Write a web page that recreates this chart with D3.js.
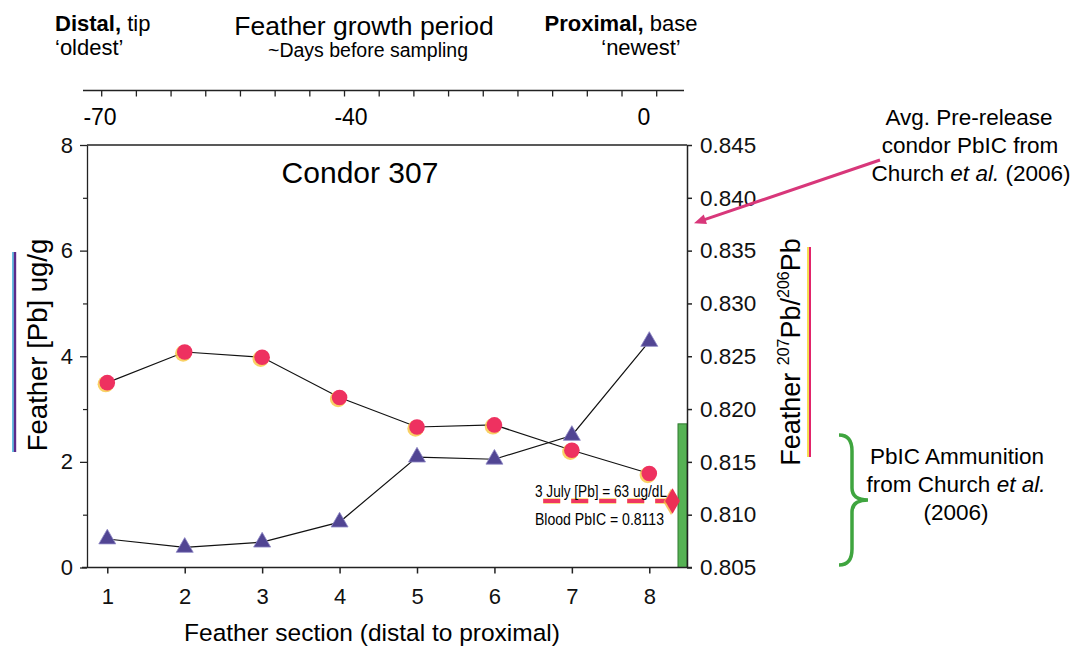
<!DOCTYPE html>
<html>
<head>
<meta charset="utf-8">
<script src="https://cdn.jsdelivr.net/npm/d3@7"></script>
<style>
  html, body { margin: 0; padding: 0; background: #fff; }
  svg { display: block; font-family: "Liberation Sans", Arial, sans-serif; }
</style>
</head>
<body>
<svg id="chart"></svg>
<script>
// feather sections, distal (1) to proximal (8)
const sections = [1, 2, 3, 4, 5, 6, 7, 8];
// feather [Pb] ug/g (triangles, left axis)
const featherPb = [0.54, 0.38, 0.48, 0.86, 2.09, 2.05, 2.5, 4.28];
// feather 207Pb/206Pb (circles, right axis)
const featherRatio = [0.8225, 0.8254, 0.8249, 0.8211, 0.8183, 0.8185, 0.8161, 0.8139];
// blood sample
const bloodRatio = 0.8113;
const bloodSection = 8.3;
const bloodLineFrom = 6.63;
// reference values from Church et al. (2006)
const preReleaseRatio = 0.8376;
const ammoRange = [0.805, 0.8186];

const leftTicks = [0, 2, 4, 6, 8];
const leftMinor = [1, 3, 5, 7];
const rightTicks = [0.805, 0.81, 0.815, 0.82, 0.825, 0.83, 0.835, 0.84, 0.845];
const dayLabels = [-70, -40, 0];
const dayMinorCount = 17;

const width = 1076;
const height = 654;
const marginTop = 145;
const marginRight = 389;
const marginBottom = 86.5;
const marginLeft = 87;

const svg = d3.select("#chart")
    .attr("width", width)
    .attr("height", height)
    .attr("viewBox", [0, 0, width, height]);

const x = d3.scaleLinear()
    .domain([0.738, 8.487])
    .range([marginLeft, width - marginRight]);
const yL = d3.scaleLinear()
    .domain([0, 8])
    .range([height - marginBottom, marginTop]);
const yR = d3.scaleLinear()
    .domain([0.805, 0.845])
    .range([height - marginBottom, marginTop]);

// top "days before sampling" axis (not linear in the original figure)
const day = d3.scaleLinear().domain([-70, -40, 0]).range([100, 351, 644]);
const dayTick = d3.scaleLinear().domain([0, dayMinorCount - 1]).range([101.7, 656.7]);
const topY = 90.5;

svg.append("line")
    .attr("x1", 83).attr("x2", 684)
    .attr("y1", topY).attr("y2", topY)
    .attr("stroke", "#222").attr("stroke-width", 1.5);
svg.append("g")
    .selectAll("line")
    .data(d3.range(dayMinorCount))
    .join("line")
    .attr("x1", d => dayTick(d)).attr("x2", d => dayTick(d))
    .attr("y1", topY).attr("y2", topY + 6)
    .attr("stroke", "#222").attr("stroke-width", 1.3);
svg.append("g")
    .selectAll("text")
    .data(dayLabels)
    .join("text")
    .attr("x", d => day(d))
    .attr("y", 125)
    .attr("text-anchor", "middle")
    .attr("font-size", 23)
    .text(d => d === 0 ? "0" : "-" + Math.abs(d));

// top header texts
svg.append("text").attr("x", 55).attr("y", 31).attr("font-size", 22)
    .call(t => t.append("tspan").attr("font-weight", "bold").text("Distal,"))
    .call(t => t.append("tspan").text(" tip"));
svg.append("text").attr("x", 55).attr("y", 55).attr("font-size", 22).text("\u2018oldest\u2019");
svg.append("text").attr("x", 364).attr("y", 35).attr("font-size", 26.5)
    .attr("text-anchor", "middle").text("Feather growth period");
svg.append("text").attr("x", 368).attr("y", 57).attr("font-size", 19.5)
    .attr("text-anchor", "middle").text("~Days before sampling");
svg.append("text").attr("x", 621).attr("y", 31).attr("font-size", 22)
    .attr("text-anchor", "middle")
    .call(t => t.append("tspan").attr("font-weight", "bold").text("Proximal,"))
    .call(t => t.append("tspan").text(" base"));
svg.append("text").attr("x", 641).attr("y", 55).attr("font-size", 22)
    .attr("text-anchor", "middle").text("\u2018newest\u2019");

// PbIC ammunition bar
svg.append("rect")
    .attr("x", x.range()[1] - 9)
    .attr("y", yR(ammoRange[1]))
    .attr("width", 9)
    .attr("height", yR(ammoRange[0]) - yR(ammoRange[1]))
    .attr("fill", "#56b254")
    .attr("stroke", "#2f7a2f")
    .attr("stroke-width", 1);

// frame: top line
svg.append("line")
    .attr("x1", marginLeft).attr("x2", width - marginRight)
    .attr("y1", marginTop).attr("y2", marginTop)
    .attr("stroke", "#222").attr("stroke-width", 1.5);

// left axis
svg.append("g")
    .attr("transform", `translate(${marginLeft},0)`)
    .call(d3.axisLeft(yL).tickValues(leftTicks).tickSize(7).tickSizeOuter(0).tickPadding(7))
    .call(g => g.selectAll("text").attr("font-size", 22).attr("font-family", null).attr("fill", "#111"))
    .call(g => g.selectAll("line, path").attr("stroke", "#222").attr("stroke-width", 1.3));
svg.append("g")
    .attr("transform", `translate(${marginLeft},0)`)
    .call(d3.axisLeft(yL).tickValues(leftMinor).tickSize(4).tickFormat(""))
    .call(g => g.select(".domain").remove())
    .call(g => g.selectAll("line").attr("stroke", "#222").attr("stroke-width", 1.2));

// right axis
svg.append("g")
    .attr("transform", `translate(${width - marginRight},0)`)
    .call(d3.axisRight(yR).tickValues(rightTicks).tickSize(5).tickSizeOuter(0).tickPadding(8)
        .tickFormat(d3.format(".3f")))
    .call(g => g.selectAll("text").attr("font-size", 22.5).attr("font-family", null).attr("fill", "#111"))
    .call(g => g.selectAll("line, path").attr("stroke", "#222").attr("stroke-width", 1.5));

// bottom axis
svg.append("g")
    .attr("transform", `translate(0,${height - marginBottom})`)
    .call(d3.axisBottom(x).tickValues(sections).tickSize(6).tickSizeOuter(0).tickPadding(15))
    .call(g => g.select(".domain").attr("d", `M${marginLeft - 5},0H${width - marginRight + 5}`))
    .call(g => g.selectAll("text").attr("font-size", 22).attr("font-family", null).attr("fill", "#111"))
    .call(g => g.selectAll("line, path").attr("stroke", "#222").attr("stroke-width", 1.5));

// axis titles
svg.append("text")
    .attr("x", 372).attr("y", 641)
    .attr("text-anchor", "middle")
    .attr("font-size", 24.5)
    .text("Feather section (distal to proximal)");
svg.append("text")
    .attr("transform", "translate(47,345) rotate(-90)")
    .attr("text-anchor", "middle")
    .attr("font-size", 27.5)
    .text("Feather [Pb] ug/g");
svg.append("line").attr("x1", 13).attr("x2", 13).attr("y1", 252).attr("y2", 452)
    .attr("stroke", "#35a9d6").attr("stroke-width", 1.5);
svg.append("line").attr("x1", 15).attr("x2", 15).attr("y1", 252).attr("y2", 452)
    .attr("stroke", "#5b2a8a").attr("stroke-width", 2.4);

svg.append("text")
    .attr("transform", "translate(800,352) rotate(-90)")
    .attr("text-anchor", "middle")
    .attr("font-size", 27)
    .call(t => t.append("tspan").text("Feather "))
    .call(t => t.append("tspan").attr("font-size", 16).attr("dy", -11).text("207"))
    .call(t => t.append("tspan").attr("dy", 11).text("Pb/"))
    .call(t => t.append("tspan").attr("font-size", 16).attr("dy", -11).text("206"))
    .call(t => t.append("tspan").attr("dy", 11).text("Pb"));
svg.append("line").attr("x1", 808).attr("x2", 808).attr("y1", 247).attr("y2", 457)
    .attr("stroke", "#f2d21a").attr("stroke-width", 1.5);
svg.append("line").attr("x1", 810).attr("x2", 810).attr("y1", 247).attr("y2", 457)
    .attr("stroke", "#e2236b").attr("stroke-width", 2);

// chart title
svg.append("text")
    .attr("x", 360).attr("y", 183)
    .attr("text-anchor", "middle")
    .attr("font-size", 30)
    .text("Condor 307");

// series lines
const lineL = d3.line().x((d, i) => x(sections[i])).y(d => yL(d));
const lineR = d3.line().x((d, i) => x(sections[i])).y(d => yR(d));
svg.append("path").attr("d", lineL(featherPb))
    .attr("fill", "none").attr("stroke", "#111").attr("stroke-width", 1.2);
svg.append("path").attr("d", lineR(featherRatio))
    .attr("fill", "none").attr("stroke", "#111").attr("stroke-width", 1.2);

// blood dashed line and diamond
svg.append("line")
    .attr("x1", x(bloodLineFrom)).attr("x2", x(bloodSection) - 4)
    .attr("y1", yR(bloodRatio)).attr("y2", yR(bloodRatio))
    .attr("stroke", "#f7d35a").attr("stroke-width", 6).attr("stroke-dasharray", "17,11")
    .attr("opacity", 0.7);
svg.append("line")
    .attr("x1", x(bloodLineFrom)).attr("x2", x(bloodSection) - 4)
    .attr("y1", yR(bloodRatio)).attr("y2", yR(bloodRatio))
    .attr("stroke", "#ef3762").attr("stroke-width", 4).attr("stroke-dasharray", "17,11");
svg.append("path")
    .attr("d", d3.symbol(d3.symbolDiamond, 200)())
    .attr("transform", `translate(${x(bloodSection) - 1.5},${yR(bloodRatio) + 1})`)
    .attr("fill", "#f5b640").attr("opacity", 0.8);
svg.append("path")
    .attr("d", d3.symbol(d3.symbolDiamond, 190)())
    .attr("transform", `translate(${x(bloodSection)},${yR(bloodRatio)})`)
    .attr("fill", "#ec2f55");
svg.append("text").attr("x", 535).attr("y", 497)
    .attr("font-size", 16.5)
    .attr("textLength", 132).attr("lengthAdjust", "spacingAndGlyphs")
    .text("3 July [Pb] = 63 ug/dL");
svg.append("text").attr("x", 535).attr("y", 525)
    .attr("font-size", 16.5)
    .attr("textLength", 129).attr("lengthAdjust", "spacingAndGlyphs")
    .text("Blood PbIC = 0.8113");

// triangles
svg.append("g")
    .selectAll("path")
    .data(featherPb)
    .join("path")
    .attr("d", d3.symbol(d3.symbolTriangle, 125)())
    .attr("transform", (d, i) => `translate(${x(sections[i])},${yL(d)})`)
    .attr("fill", "#514593")
    .attr("stroke", "#8d86c4")
    .attr("stroke-width", 0.8);

// circles with yellow halo
svg.append("g")
    .selectAll("circle")
    .data(featherRatio)
    .join("circle")
    .attr("cx", (d, i) => x(sections[i]) - 1.5)
    .attr("cy", d => yR(d) + 1.5)
    .attr("r", 8.2)
    .attr("fill", "#f8c94a")
    .attr("opacity", 0.85);
svg.append("g")
    .selectAll("circle")
    .data(featherRatio)
    .join("circle")
    .attr("cx", (d, i) => x(sections[i]))
    .attr("cy", d => yR(d))
    .attr("r", 7.8)
    .attr("fill", "#ee3160");

// pre-release arrow
const arrowTo = [x.range()[1] + 7, yR(preReleaseRatio)];
const arrowFrom = [880, 160];
const ang = Math.atan2(arrowTo[1] - arrowFrom[1], arrowTo[0] - arrowFrom[0]);
svg.append("line")
    .attr("x1", arrowFrom[0]).attr("y1", arrowFrom[1])
    .attr("x2", arrowTo[0] - 8 * Math.cos(ang)).attr("y2", arrowTo[1] - 8 * Math.sin(ang))
    .attr("stroke", "#d8377a").attr("stroke-width", 3);
svg.append("path")
    .attr("d", "M0,0L-12,-5L-12,5Z")
    .attr("transform", `translate(${arrowTo[0]},${arrowTo[1]}) rotate(${ang * 180 / Math.PI})`)
    .attr("fill", "#d8377a");
svg.append("g")
    .attr("font-size", 22.5)
    .attr("text-anchor", "middle")
    .call(g => g.append("text").attr("x", 969).attr("y", 125).text("Avg. Pre-release"))
    .call(g => g.append("text").attr("x", 970).attr("y", 153).text("condor PbIC from"))
    .call(g => g.append("text").attr("x", 971).attr("y", 181)
        .call(t => t.append("tspan").text("Church "))
        .call(t => t.append("tspan").attr("font-style", "italic").text("et al."))
        .call(t => t.append("tspan").text(" (2006)")));

// ammunition brace
const bx0 = 839, bxm = 852, bxp = 868, by0 = 435, bym = 500, by1 = 565;
svg.append("path")
    .attr("d", `M${bx0},${by0}Q${bxm},${by0} ${bxm},${by0 + 16}L${bxm},${bym - 12}Q${bxm},${bym} ${bxp},${bym}`
        + `Q${bxm},${bym} ${bxm},${bym + 12}L${bxm},${by1 - 16}Q${bxm},${by1} ${bx0},${by1}`)
    .attr("fill", "none")
    .attr("stroke", "#3fa53f")
    .attr("stroke-width", 3.5);
svg.append("g")
    .attr("font-size", 22.5)
    .attr("text-anchor", "middle")
    .call(g => g.append("text").attr("x", 957).attr("y", 464).text("PbIC Ammunition"))
    .call(g => g.append("text").attr("x", 956).attr("y", 492)
        .call(t => t.append("tspan").text("from Church "))
        .call(t => t.append("tspan").attr("font-style", "italic").text("et al.")))
    .call(g => g.append("text").attr("x", 956).attr("y", 520).text("(2006)"));
</script>
</body>
</html>
